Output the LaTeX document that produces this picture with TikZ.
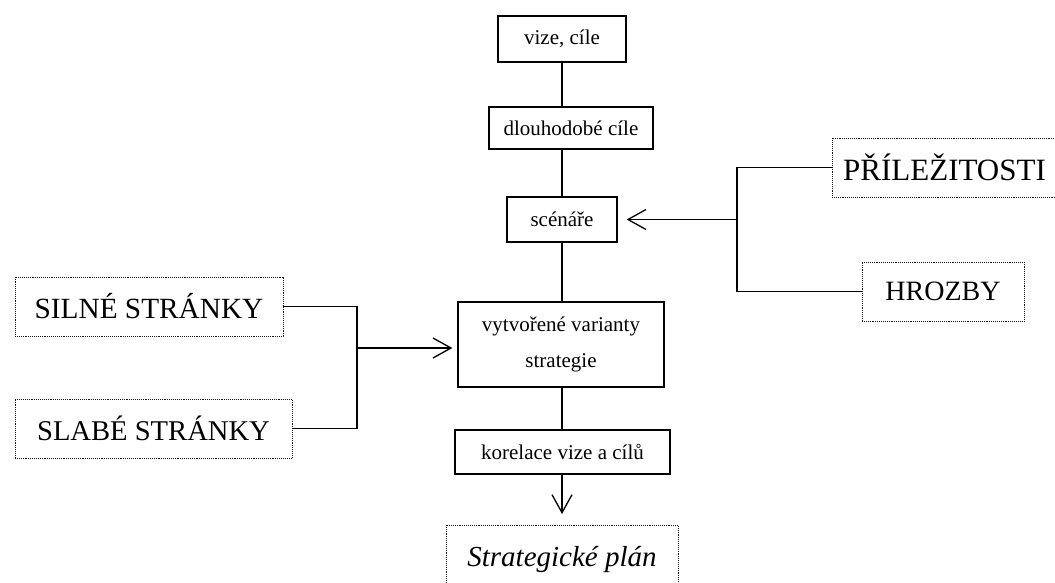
\documentclass[tikz,border=0pt]{standalone}
\usepackage{fontspec}
\setmainfont{Liberation Serif}
\usetikzlibrary{arrows.meta}
\begin{document}
\begin{tikzpicture}[x=1pt,y=-1pt,
  stepbox/.style={draw=black,line width=1.3pt,inner sep=0pt,align=center,
    font=\fontsize{21}{36}\selectfont},
  factbox/.style={draw=black!90,densely dotted,line width=0.9pt,inner sep=0pt,
    align=center,font=\fontsize{28}{32}\selectfont},
  link/.style={line width=1.6pt,black},
  openhead/.style={-{Straight Barb[length=18pt,width=20pt,line width=1.3pt]}}]
  \clip (0,0) rectangle (1055,582);
  \fill[white] (0,0) rectangle (1055,582);

  % main chain
  \node[stepbox,minimum width=128pt,minimum height=46pt] (vize) at (562,39) {vize, cíle};
  \node[stepbox,minimum width=164pt,minimum height=42pt] (dlouh) at (571,128) {dlouhodobé cíle};
  \node[stepbox,minimum width=110pt,minimum height=45pt] (scen) at (562,219.5) {scénáře};
  \node[stepbox,minimum width=206pt,minimum height=85pt] (vari) at (561,344.5) {vytvořené varianty\\strategie};
  \node[stepbox,minimum width=215pt,minimum height=44pt] (kor) at (562.5,452) {korelace vize a cílů};
  \node[factbox,minimum width=232pt,minimum height=70pt,font=\fontsize{29}{32}\selectfont\itshape] (plan) at (562,560) {Strategické plán};

  % external factors
  \node[factbox,minimum width=225pt,minimum height=59pt,font=\fontsize{31}{34}\selectfont] (pril) at (944.5,167.5) {PŘÍLEŽITOSTI};
  \node[factbox,minimum width=162pt,minimum height=59pt] (hroz) at (943,291.5) {HROZBY};
  \node[factbox,minimum width=268pt,minimum height=59pt,font=\fontsize{29.3}{32}\selectfont] (siln) at (149,306.5) {SILNÉ STRÁNKY};
  \node[factbox,minimum width=277pt,minimum height=59pt,font=\fontsize{28.6}{32}\selectfont] (slab) at (153.5,428.5) {SLABÉ STRÁNKY};

  % vertical links
  \draw[link] (vize.south) -- (vize.south |- dlouh.north);
  \draw[link] (vize.south |- dlouh.south) -- (scen.north);
  \draw[link] (scen.south) -- (scen.south |- vari.north);
  \draw[link] (scen.south |- vari.south) -- (scen.south |- kor.north);
  \coordinate (planin) at (562,514);
  \draw[link,openhead] (scen.south |- kor.south) -- (planin);

  % opportunities and threats
  \coordinate (rj) at (737,219.5);
  \draw[link] (pril.west) -| (rj) |- (hroz.west);
  \draw[link,openhead,shorten >=9pt] (rj) -- (scen.east);

  % strengths and weaknesses
  \coordinate (lj) at (357,348);
  \draw[link] (siln.east) -| (lj) |- (slab.east);
  \draw[link,openhead,shorten >=5pt] (lj) -- (lj -| vari.west);
\end{tikzpicture}
\end{document}
